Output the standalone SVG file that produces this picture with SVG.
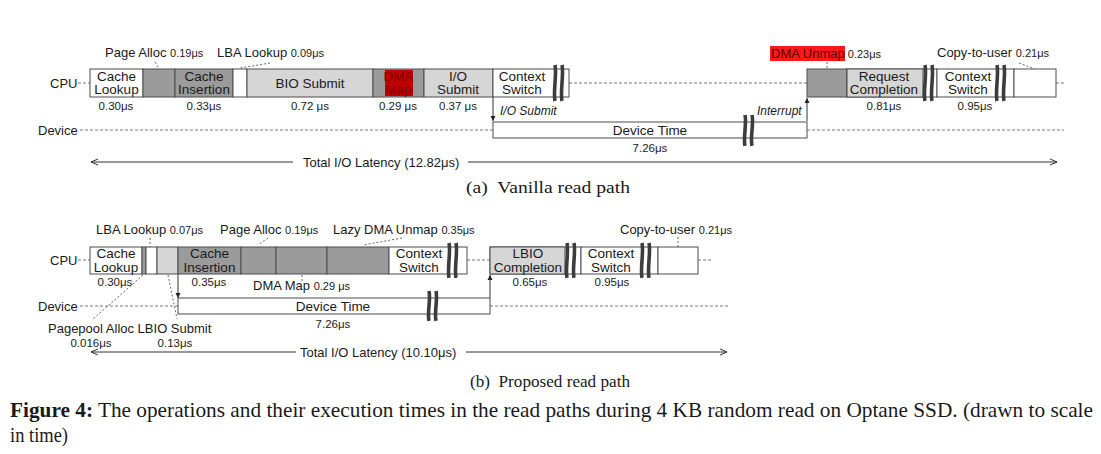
<svg xmlns="http://www.w3.org/2000/svg" xmlns:xlink="http://www.w3.org/1999/xlink" width="1101" height="454" viewBox="0 0 1101 454">
<style>
text{font-family:"Liberation Sans",Arial,sans-serif;fill:#1a1a1a}
.lb{font-size:13.5px;text-anchor:middle}
.lbl{font-size:13px}
.sm{font-size:11px}
.num{font-size:11.5px;text-anchor:middle}
.it{font-size:12px;font-style:italic}
.cap{font-family:"Liberation Serif","Times New Roman",serif;font-size:17px}
.fig{font-family:"Liberation Serif","Times New Roman",serif;font-size:21.5px}
.w{fill:#ffffff;stroke:#4d4d4d;stroke-width:1}
.dg{fill:#9b9b9b;stroke:#4d4d4d;stroke-width:1}
.lg{fill:#d6d6d6;stroke:#4d4d4d;stroke-width:1}
.dash{stroke:#777;stroke-width:1;stroke-dasharray:3,2;fill:none}
.lead{stroke:#555;stroke-width:0.9;stroke-dasharray:2,2;fill:none}
.line{stroke:#333;stroke-width:1;fill:none}
.bar{stroke:#3c3c3c;stroke-width:3.6;fill:none;stroke-linecap:butt}
</style>
<defs>
<g id="brk">
<path class="bar" d="M1,0 C3,9 -1,27 1,36"/>
<path class="bar" d="M8,0 C10,9 6,27 8,36"/>
</g>
<marker id="ah" markerWidth="8" markerHeight="8" refX="7" refY="4" orient="auto" markerUnits="userSpaceOnUse">
<path d="M0,1 L7,4 L0,7" fill="none" stroke="#333" stroke-width="1"/>
</marker>
<marker id="sa" markerWidth="6" markerHeight="6" refX="5" refY="3" orient="auto" markerUnits="userSpaceOnUse">
<path d="M0,0.5 L5,3 L0,5.5 Z" fill="#222"/>
</marker>
</defs>

<!-- connectors -->
<g id="connectors">
<!-- (a) -->
<line class="dash" x1="78" y1="83" x2="90" y2="83"/>
<line class="dash" x1="569" y1="83" x2="807" y2="83"/>
<line class="dash" x1="1056" y1="83" x2="1064" y2="83"/>
<line class="dash" x1="80" y1="130" x2="493" y2="130"/>
<line class="dash" x1="807" y1="130" x2="1064" y2="130"/>
<line class="line" x1="493" y1="97" x2="493" y2="121" marker-end="url(#sa)"/>
<line class="line" x1="807" y1="121" x2="807" y2="98" marker-end="url(#sa)"/>
<line class="lead" x1="155" y1="62" x2="159" y2="69"/>
<line class="lead" x1="270" y1="63" x2="240" y2="68"/>
<line class="lead" x1="827" y1="62" x2="827" y2="68"/>
<line class="lead" x1="1019" y1="63" x2="1035" y2="69"/>
<line class="line" x1="293" y1="162" x2="91" y2="162" marker-end="url(#ah)"/>
<line class="line" x1="468" y1="162" x2="1057" y2="162" marker-end="url(#ah)"/>
<!-- (b) -->
<line class="dash" x1="78" y1="260" x2="90" y2="260"/>
<line class="dash" x1="467" y1="260" x2="490" y2="260"/>
<line class="dash" x1="698" y1="260" x2="712" y2="260"/>
<line class="dash" x1="80" y1="306" x2="178" y2="306"/>
<line class="dash" x1="490" y1="306" x2="730" y2="306"/>
<line class="line" x1="178" y1="274" x2="178" y2="298" marker-end="url(#sa)"/>
<line class="line" x1="490" y1="298" x2="490" y2="275" marker-end="url(#sa)"/>
<line class="lead" x1="150" y1="238" x2="150" y2="247"/>
<line class="lead" x1="268" y1="238" x2="258" y2="245"/>
<line class="lead" x1="402" y1="238" x2="363" y2="245"/>
<line class="lead" x1="678" y1="237" x2="678" y2="247"/>
<line class="lead" x1="302" y1="275" x2="302" y2="281"/>
<line class="lead" x1="143" y1="275" x2="93" y2="319"/>
<line class="lead" x1="168" y1="275" x2="177" y2="319"/>
<line class="line" x1="296" y1="352" x2="91" y2="352" marker-end="url(#ah)"/>
<line class="line" x1="466" y1="352" x2="727" y2="352" marker-end="url(#ah)"/>
</g>

<!-- (a) Vanilla read path -->
<g id="a-labels">
<text class="lbl" x="50" y="88">CPU</text>
<text class="lbl" x="38" y="135">Device</text>
<text x="105" y="57"><tspan class="lbl">Page Alloc </tspan><tspan class="sm">0.19μs</tspan></text>
<text x="217" y="57"><tspan class="lbl">LBA Lookup </tspan><tspan class="sm">0.09μs</tspan></text>
<rect x="770" y="46" width="75" height="15" fill="#ff1a1a"/>
<text x="771" y="58"><tspan class="lbl" style="fill:#5a0000">DMA Unmap</tspan><tspan class="sm"> 0.23μs</tspan></text>
<text x="937" y="57"><tspan class="lbl">Copy-to-user </tspan><tspan class="sm">0.21μs</tspan></text>
<text class="num" x="116" y="110">0.30μs</text>
<text class="num" x="204" y="110">0.33μs</text>
<text class="num" x="310" y="110">0.72 μs</text>
<text class="num" x="398" y="110">0.29 μs</text>
<text class="num" x="458" y="110">0.37 μs</text>
<text class="num" x="884" y="110">0.81μs</text>
<text class="num" x="975" y="110">0.95μs</text>
<text class="it" x="500" y="115">I/O Submit</text>
<text class="it" x="757" y="115">Interrupt</text>
<text class="lbl" x="303" y="167">Total I/O Latency (12.82μs)</text>
<text class="cap" x="466" y="193" textLength="164" lengthAdjust="spacingAndGlyphs" xml:space="preserve">(a)  Vanilla read path</text>
</g>
<g id="a-cache-lookup"><rect class="w" x="90" y="69" width="53" height="28"/><text class="lb" x="116.5" y="80.5">Cache</text><text class="lb" x="116.5" y="94">Lookup</text></g>
<g id="a-page-alloc"><rect class="dg" x="143" y="69" width="32" height="28"/></g>
<g id="a-cache-insertion"><rect class="dg" x="175" y="69" width="58" height="28"/><text class="lb" x="204" y="80.5">Cache</text><text class="lb" x="204" y="94">Insertion</text></g>
<g id="a-lba-lookup"><rect class="w" x="233" y="69" width="14" height="28"/></g>
<g id="a-bio-submit"><rect class="lg" x="247" y="69" width="126" height="28"/><text class="lb" x="310" y="88">BIO Submit</text></g>
<g id="a-dma-map"><rect class="dg" x="373" y="69" width="51" height="28"/><rect x="385" y="70" width="28" height="26" fill="#c00000"/><text class="lb" x="398.5" y="80.5" style="fill:#8a0000">DMA</text><text class="lb" x="398.5" y="94" style="fill:#8a0000">Map</text></g>
<g id="a-io-submit"><rect class="lg" x="424" y="69" width="69" height="28"/><text class="lb" x="458" y="80.5">I/O</text><text class="lb" x="458" y="94">Submit</text></g>
<g id="a-context-switch-1"><rect class="w" x="493" y="69" width="76" height="28"/><text class="lb" x="522" y="80.5">Context</text><text class="lb" x="522" y="94">Switch</text><use xlink:href="#brk" x="554" y="65"/></g>
<g id="a-device-time"><rect class="w" x="493" y="122" width="314" height="16"/><text class="lb" x="650" y="135">Device Time</text><text class="num" x="650" y="152">7.26μs</text><use xlink:href="#brk" transform="translate(744,115) scale(1,0.86)"/></g>
<g id="a-dma-unmap"><rect class="dg" x="807" y="69" width="40" height="28"/></g>
<g id="a-request-completion"><rect class="w" x="847" y="69" width="90" height="28"/><rect class="lg" x="847" y="69" width="76" height="28"/><text class="lb" x="884" y="80.5">Request</text><text class="lb" x="884" y="94">Completion</text><use xlink:href="#brk" x="924" y="65"/></g>
<g id="a-context-switch-2"><rect class="w" x="937" y="69" width="77" height="28"/><text class="lb" x="968" y="80.5">Context</text><text class="lb" x="968" y="94">Switch</text><use xlink:href="#brk" x="996" y="65"/></g>
<g id="a-copy-to-user"><rect class="w" x="1014" y="69" width="42" height="28"/></g>

<!-- (b) Proposed read path -->
<g id="b-labels">
<text class="lbl" x="50" y="265">CPU</text>
<text class="lbl" x="38" y="311">Device</text>
<text x="96" y="234"><tspan class="lbl">LBA Lookup </tspan><tspan class="sm">0.07μs</tspan></text>
<text x="220" y="234"><tspan class="lbl">Page Alloc </tspan><tspan class="sm">0.19μs</tspan></text>
<text x="333" y="234"><tspan class="lbl">Lazy DMA Unmap </tspan><tspan class="sm">0.35μs</tspan></text>
<text x="620" y="234"><tspan class="lbl">Copy-to-user </tspan><tspan class="sm">0.21μs</tspan></text>
<text class="num" x="115" y="286">0.30μs</text>
<text class="num" x="209" y="286">0.35μs</text>
<text x="253" y="290"><tspan class="lbl">DMA Map </tspan><tspan class="sm">0.29 μs</tspan></text>
<text class="num" x="530" y="286">0.65μs</text>
<text class="num" x="612" y="286">0.95μs</text>
<text class="lbl" x="48" y="333">Pagepool Alloc LBIO Submit</text>
<text class="num" x="91" y="347">0.016μs</text>
<text class="num" x="175" y="347">0.13μs</text>
<text class="lbl" x="300" y="357">Total I/O Latency (10.10μs)</text>
<text class="cap" x="470" y="387" textLength="160" lengthAdjust="spacingAndGlyphs" xml:space="preserve">(b)  Proposed read path</text>
</g>
<g id="b-cache-lookup"><rect class="w" x="90" y="247" width="52" height="27"/><text class="lb" x="116" y="258">Cache</text><text class="lb" x="116" y="272">Lookup</text></g>
<g id="b-pagepool-alloc"><rect class="dg" x="142" y="247" width="4" height="27"/></g>
<g id="b-lba-lookup"><rect class="w" x="146" y="247" width="11" height="27"/></g>
<g id="b-lbio-submit"><rect class="lg" x="157" y="247" width="21" height="27"/></g>
<g id="b-cache-insertion"><rect class="dg" x="178" y="247" width="63" height="27"/><text class="lb" x="209.5" y="258">Cache</text><text class="lb" x="209.5" y="272">Insertion</text></g>
<g id="b-page-alloc"><rect class="dg" x="241" y="247" width="35" height="27"/></g>
<g id="b-dma-map"><rect class="dg" x="276" y="247" width="51" height="27"/></g>
<g id="b-lazy-dma-unmap"><rect class="dg" x="327" y="247" width="62" height="27"/></g>
<g id="b-context-switch-1"><rect class="w" x="389" y="247" width="78" height="27"/><text class="lb" x="419" y="258">Context</text><text class="lb" x="419" y="272">Switch</text><use xlink:href="#brk" transform="translate(448,243) scale(1,0.97)"/></g>
<g id="b-device-time"><rect class="w" x="178" y="298" width="312" height="16"/><text class="lb" x="333" y="311">Device Time</text><text class="num" x="333" y="328">7.26μs</text><use xlink:href="#brk" transform="translate(428,291) scale(1,0.83)"/></g>
<g id="b-lbio-completion"><rect class="w" x="490" y="247" width="91" height="27"/><rect class="lg" x="490" y="247" width="75" height="27"/><text class="lb" x="528" y="258">LBIO</text><text class="lb" x="528" y="272">Completion</text><use xlink:href="#brk" transform="translate(566,243) scale(1,0.97)"/></g>
<g id="b-context-switch-2"><rect class="w" x="581" y="247" width="77" height="27"/><text class="lb" x="611" y="258">Context</text><text class="lb" x="611" y="272">Switch</text><use xlink:href="#brk" transform="translate(641,243) scale(1,0.97)"/></g>
<g id="b-copy-to-user"><rect class="w" x="658" y="247" width="40" height="27"/></g>

<g id="caption">
<text class="fig" x="10" y="417" textLength="1083" lengthAdjust="spacingAndGlyphs"><tspan font-weight="bold">Figure 4:</tspan> The operations and their execution times in the read paths during 4 KB random read on Optane SSD. (drawn to scale</text>
<text class="fig" x="10" y="442" textLength="58" lengthAdjust="spacingAndGlyphs">in time)</text>
</g>
</svg>
